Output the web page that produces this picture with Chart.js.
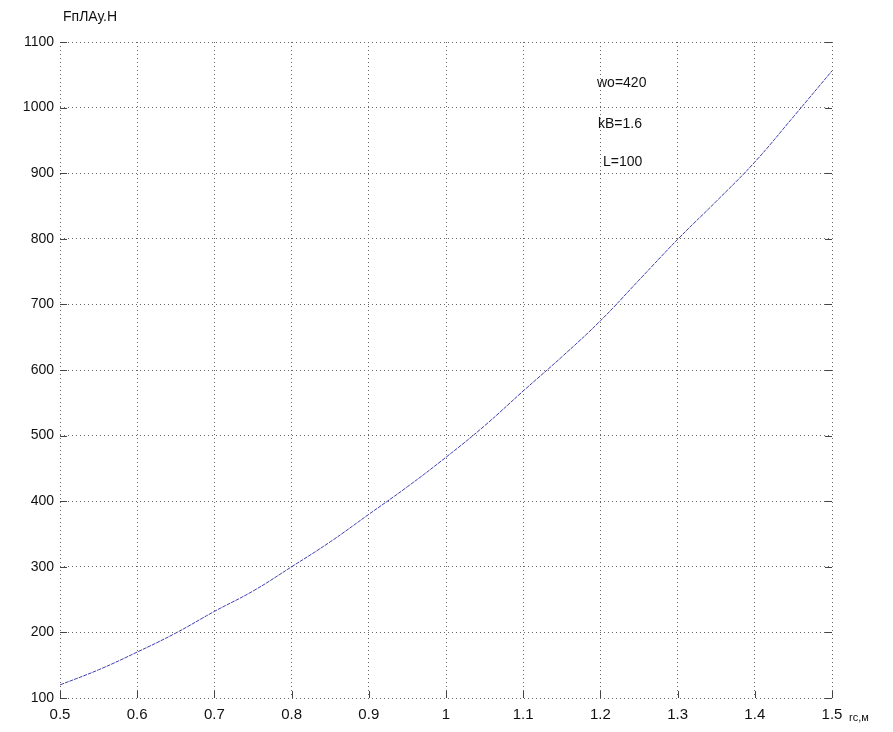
<!DOCTYPE html>
<html>
<head>
<meta charset="utf-8">
<script src="https://cdn.jsdelivr.net/npm/chart.js@4.4.0/dist/chart.umd.min.js"></script>
<style>
  html, body { margin: 0; padding: 0; background: #fff; }
  #wrap { width: 893px; height: 732px; }
</style>
</head>
<body>
<div id="wrap"><canvas id="grafico" width="893" height="732"></canvas></div>
<script>
// valores
const rc = [0.5, 0.55, 0.6, 0.65, 0.7, 0.75, 0.8, 0.85, 0.9, 0.95, 1.0,
            1.05, 1.1, 1.15, 1.2, 1.25, 1.3, 1.35, 1.4, 1.45, 1.5];
const forca = [120, 143, 170, 199, 232, 263, 300, 338, 380, 422, 467,
               515, 568, 620, 675, 737, 799, 857, 917, 986, 1056];
const xTicks = [0.5, 0.6, 0.7, 0.8, 0.9, 1, 1.1, 1.2, 1.3, 1.4, 1.5];
const yTicks = [100, 200, 300, 400, 500, 600, 700, 800, 900, 1000, 1100];
const anotacoes = ['wo=420', 'kB=1.6', 'L=100'];
const tituloY = 'FпЛАу.Н';
const tituloX = 'rc,м';

const fonte = '"Liberation Sans", Arial, sans-serif';

// textos e pequenos tracos dos eixos
const extras = {
  id: 'extras',
  afterDraw(chart) {
    const ctx = chart.ctx;
    const a = chart.chartArea;
    const sx = chart.scales.x, sy = chart.scales.y;
    ctx.save();
    // tracos internos tipo matlab
    ctx.strokeStyle = '#444';
    ctx.lineWidth = 1;
    ctx.beginPath();
    yTicks.forEach(v => {
      const y = Math.round(sy.getPixelForValue(v)) + 0.5;
      ctx.moveTo(a.left, y); ctx.lineTo(a.left + 7, y);
      ctx.moveTo(a.right - 7, y); ctx.lineTo(a.right, y);
    });
    xTicks.forEach(v => {
      const x = Math.round(sx.getPixelForValue(v)) + 0.5;
      ctx.moveTo(x, a.bottom); ctx.lineTo(x, a.bottom - 7);
    });
    ctx.stroke();

    ctx.fillStyle = '#111';
    ctx.textBaseline = 'middle';
    ctx.textAlign = 'left';
    ctx.font = '14px ' + fonte;
    ctx.fillText(tituloY, 63, 17);
    ctx.fillText(anotacoes[0], a.left + 537, 83);
    ctx.fillText(anotacoes[1], a.left + 538, 124);
    ctx.fillText(anotacoes[2], a.left + 543, 162);
    ctx.font = '11px ' + fonte;
    ctx.fillText(tituloX, 849, 718);
    ctx.restore();
  }
};

new Chart(document.getElementById('grafico'), {
  type: 'line',
  data: {
    datasets: [{
      data: rc.map((x, i) => ({ x, y: forca[i] })),
      borderColor: '#4040b0',
      borderWidth: 1,
      borderDash: [4, 1],
      pointRadius: 0,
      tension: 0.4,
      fill: false
    }]
  },
  options: {
    responsive: false,
    animation: false,
    layout: { padding: { left: 0, right: 61, top: 42, bottom: 0 } },
    plugins: { legend: { display: false }, tooltip: { enabled: false } },
    scales: {
      x: {
        type: 'linear',
        min: 0.5,
        max: 1.5,
        afterBuildTicks: s => { s.ticks = xTicks.map(v => ({ value: v })); },
        afterFit: s => { s.height = 34; },
        border: { display: false, dash: [1, 3] },
        grid: { color: '#666', drawTicks: false, lineWidth: 1 },
        ticks: {
          color: '#111',
          padding: 8,
          font: { family: fonte, size: 15 },
          callback: v => String(+v.toFixed(1))
        }
      },
      y: {
        type: 'linear',
        min: 100,
        max: 1100,
        afterBuildTicks: s => { s.ticks = yTicks.map(v => ({ value: v })); },
        afterFit: s => { s.width = 60; },
        border: { display: false, dash: [1, 3] },
        grid: { color: '#666', drawTicks: false, lineWidth: 1 },
        ticks: {
          color: '#111',
          padding: 6,
          font: { family: fonte, size: 14 },
          callback: v => String(v)
        }
      }
    }
  },
  plugins: [extras]
});
</script>
</body>
</html>
